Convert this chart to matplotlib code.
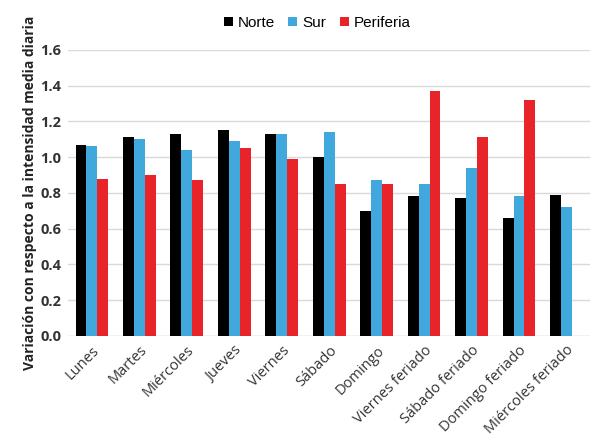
import numpy as np
import matplotlib.pyplot as plt

categorias = ['Lunes', 'Martes', 'Miércoles', 'Jueves', 'Viernes', 'Sábado', 'Domingo',
              'Viernes feriado', 'Sábado feriado', 'Domingo feriado', 'Miércoles feriado']
norte = [1.07, 1.11, 1.13, 1.15, 1.13, 1.00, 0.70, 0.78, 0.77, 0.66, 0.79]
sur = [1.06, 1.10, 1.04, 1.09, 1.13, 1.14, 0.87, 0.85, 0.94, 0.78, 0.72]
periferia = [0.88, 0.90, 0.87, 1.05, 0.99, 0.85, 0.85, 1.37, 1.11, 1.32, np.nan]
y_ticks = [0.0, 0.2, 0.4, 0.6, 0.8, 1.0, 1.2, 1.4, 1.6]

plt.rcParams['font.family'] = ['Open Sans', 'DejaVu Sans']

fig = plt.figure(figsize=(5.98, 4.45), dpi=100)
ax = fig.add_axes([0.114, 0.245, 0.873, 0.643])

x = np.arange(len(categorias))
w = 0.23
ax.bar(x - w, norte, w, color='#000000', label='Norte', zorder=3)
ax.bar(x, sur, w, color='#41a8de', label='Sur', zorder=3)
ax.bar(x + w, periferia, w, color='#e8232a', label='Periferia', zorder=3)

ax.set_ylim(0, 1.6)
ax.set_yticks(y_ticks)
ax.set_yticklabels([f'{v:.1f}' for v in y_ticks], fontsize=10.5, fontweight='bold', color='#333333')
ax.set_xlim(-0.5, len(categorias) - 0.5)
ax.set_xticks(x)
ax.set_xticklabels(categorias, rotation=45, ha='right', rotation_mode='anchor',
                   fontsize=10.5, color='#333333')
ax.tick_params(axis='both', length=0, pad=5)
ax.grid(axis='y', color='#d9d9d9', linewidth=1, zorder=0)
for s in ax.spines.values():
    s.set_visible(False)
ax.axhline(0, color='#d9d9d9', linewidth=1, zorder=1)

ax.set_ylabel('Variación con respecto a la intensidad media diaria', fontsize=10,
              fontweight='bold', color='#222222', labelpad=2)

fig.legend(loc='upper center', bbox_to_anchor=(0.53, 0.995), ncol=3, frameon=False,
           handlelength=0.6, handleheight=0.6, handletextpad=0.3,
           columnspacing=0.9, prop={'family': 'Liberation Sans', 'size': 11})

fig.savefig('out.png', dpi=100, facecolor='white')
